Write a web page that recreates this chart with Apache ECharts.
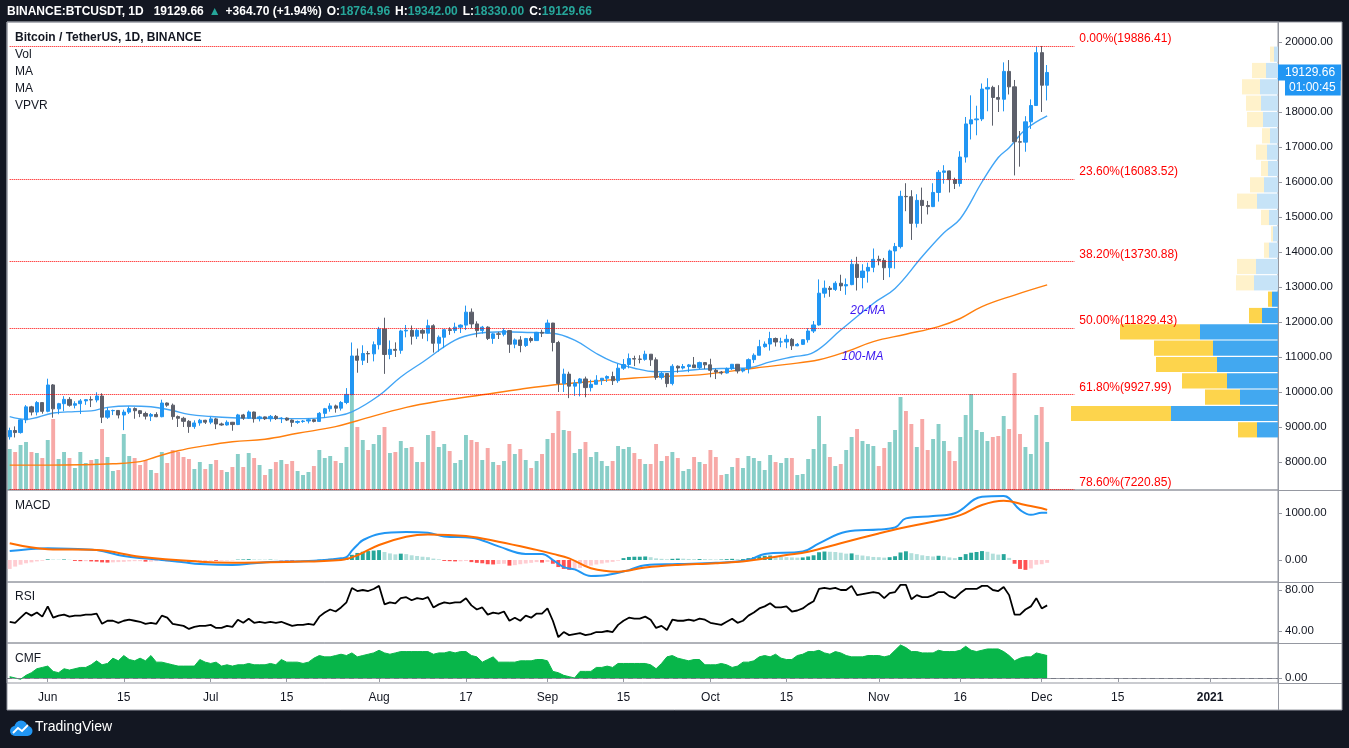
<!DOCTYPE html>
<html>
<head>
<meta charset="utf-8">
<script src="https://cdn.jsdelivr.net/npm/echarts@6/dist/echarts.min.js"></script>
<style>
  html, body { margin: 0; padding: 0; background: #131722; }
  #panel { position: absolute; left: 7px; top: 22px; width: 1335px; height: 688px; background: #fff; }
  #chart { position: absolute; left: 0; top: 0; width: 1349px; height: 748px; }
</style>
</head>
<body>
<div id="panel"></div>
<div id="chart"></div>
<script>
// ---- axis / category data ----
const days = [];
for (let t = Date.UTC(2020, 4, 25); t <= Date.UTC(2021, 0, 13); t += 86400000) {
  days.push(new Date(t).toISOString().slice(0, 10));
}
const tickDates = ['2020-06-01', '2020-06-15', '2020-07-01', '2020-07-15', '2020-08-01', '2020-08-17', '2020-09-01',
  '2020-09-15', '2020-10-01', '2020-10-15', '2020-11-01', '2020-11-16', '2020-12-01', '2020-12-15', '2021-01-01'];
const tickLabels = ['Jun', '15', 'Jul', '15', 'Aug', '17', 'Sep', '15', 'Oct', '15', 'Nov', '16', 'Dec', '15', '2021'];
const priceTicks = [8000, 9000, 10000, 11000, 12000, 13000, 14000, 15000, 16000, 17000, 18000, 19000, 20000];

// ---- daily candles from 2020-05-25: [open, high, low, close] ----
const candles = [
  [8720, 8980, 8640, 8900], [8900, 9017, 8700, 8841], [8841, 9225, 8811, 9204], [9204, 9625, 9110, 9575],
  [9575, 9605, 9330, 9427], [9427, 9740, 9331, 9697], [9697, 9700, 9381, 9448],
  // Jun
  [9448, 10380, 9421, 10200], [10202, 10228, 9266, 9518], [9518, 9690, 9365, 9666], [9666, 9881, 9450, 9789],
  [9788, 9854, 9581, 9621], [9621, 9735, 9531, 9666], [9666, 9800, 9372, 9746], [9746, 9800, 9633, 9782],
  [9782, 9877, 9570, 9772], [9772, 9992, 9704, 9885], [9885, 9963, 9113, 9280], [9280, 9557, 9232, 9465],
  [9465, 9494, 9341, 9473], [9473, 9480, 9245, 9342], [9342, 9495, 8910, 9426], [9426, 9589, 9373, 9525],
  [9525, 9560, 9236, 9465], [9465, 9484, 9281, 9386], [9386, 9438, 9215, 9310], [9310, 9400, 9170, 9358],
  [9358, 9422, 9281, 9294], [9294, 9780, 9277, 9685], [9685, 9700, 9577, 9624], [9624, 9670, 9208, 9297],
  [9297, 9328, 9000, 9249], [9249, 9291, 8999, 9162], [9162, 9196, 8833, 9012], [9012, 9191, 8948, 9116],
  [9116, 9232, 9036, 9192], [9192, 9205, 9086, 9138],
  // Jul
  [9138, 9292, 9080, 9232], [9232, 9261, 8940, 9087], [9087, 9125, 9037, 9058], [9058, 9190, 9040, 9135],
  [9135, 9145, 8893, 9070], [9070, 9375, 9055, 9345], [9345, 9375, 9203, 9253], [9253, 9470, 9230, 9428],
  [9428, 9440, 9125, 9237], [9237, 9320, 9160, 9289], [9289, 9300, 9200, 9235], [9235, 9343, 9153, 9303],
  [9303, 9343, 9200, 9241], [9241, 9279, 9113, 9255], [9255, 9275, 9170, 9198], [9198, 9216, 9005, 9133],
  [9133, 9186, 9089, 9157], [9157, 9200, 9120, 9171], [9171, 9244, 9102, 9208], [9208, 9225, 9131, 9160],
  [9160, 9427, 9142, 9390], [9390, 9545, 9268, 9521], [9521, 9680, 9438, 9603], [9603, 9640, 9410, 9538],
  [9538, 9740, 9470, 9700], [9700, 10111, 9652, 9931], [9931, 11415, 9903, 11029], [11029, 11242, 10550, 10906],
  [10906, 11335, 10770, 11100], [11100, 11169, 10831, 11090], [11090, 11444, 10875, 11352],
  // Aug
  [11352, 11861, 11215, 11800], [11800, 12123, 10518, 11072], [11072, 11473, 10936, 11219], [11219, 11418, 11000, 11191],
  [11191, 11780, 11093, 11744], [11744, 11915, 11562, 11762], [11762, 11900, 11354, 11594], [11594, 11808, 11512, 11761],
  [11761, 11797, 11521, 11681], [11681, 12067, 11450, 11893], [11893, 11935, 11125, 11392], [11392, 11617, 11152, 11565],
  [11565, 11800, 11254, 11780], [11780, 11850, 11634, 11760], [11760, 11980, 11680, 11852], [11852, 11932, 11686, 11911],
  [11911, 12468, 11770, 12281], [12281, 12387, 11817, 11945], [11945, 12020, 11562, 11754], [11754, 11888, 11668, 11853],
  [11853, 11878, 11485, 11531], [11531, 11686, 11376, 11662], [11662, 11718, 11514, 11648], [11648, 11824, 11590, 11754],
  [11754, 11766, 11117, 11366], [11366, 11530, 11250, 11488], [11488, 11595, 11135, 11329], [11329, 11545, 11285, 11529],
  [11529, 11580, 11410, 11469], [11469, 11718, 11459, 11706], [11706, 11780, 11570, 11681],
  // Sep
  [11681, 12067, 11672, 11970], [11970, 11975, 11160, 11414], [11414, 11462, 10000, 10245], [10245, 10666, 10000, 10511],
  [10511, 10580, 9825, 10167], [10167, 10350, 9889, 10256], [10256, 10400, 9875, 10373], [10373, 10440, 9850, 10126],
  [10126, 10350, 10015, 10220], [10220, 10480, 10218, 10338], [10338, 10400, 10200, 10393], [10393, 10475, 10285, 10442],
  [10442, 10581, 10200, 10323], [10323, 10800, 10262, 10680], [10680, 10940, 10630, 10786], [10786, 11100, 10676, 10954],
  [10954, 11037, 10740, 10941], [10941, 11050, 10817, 10933], [10933, 11180, 10893, 11080], [11080, 11080, 10745, 10920],
  [10920, 10988, 10350, 10417], [10417, 10575, 10357, 10529], [10529, 10537, 10136, 10241], [10241, 10795, 10190, 10736],
  [10736, 10760, 10550, 10686], [10686, 10800, 10644, 10728], [10728, 10800, 10565, 10774], [10774, 11000, 10700, 10696],
  [10696, 10867, 10650, 10840], [10840, 10845, 10656, 10776],
  // Oct
  [10776, 10950, 10420, 10619], [10619, 10665, 10370, 10570], [10570, 10600, 10497, 10542], [10542, 10700, 10528, 10666],
  [10666, 10800, 10630, 10792], [10792, 10800, 10530, 10600], [10600, 10680, 10560, 10668], [10668, 10960, 10532, 10924],
  [10924, 11104, 10830, 11050], [11050, 11491, 11050, 11296], [11296, 11444, 11266, 11370], [11370, 11720, 11183, 11529],
  [11529, 11557, 11300, 11429], [11429, 11550, 11280, 11430], [11430, 11635, 11250, 11505], [11505, 11541, 11200, 11320],
  [11320, 11400, 11308, 11361], [11361, 11488, 11345, 11495], [11495, 11824, 11412, 11742], [11742, 12028, 11686, 11916],
  [11916, 13217, 11895, 12823], [12823, 13185, 12695, 12965], [12965, 13027, 12720, 12931], [12931, 13165, 12887, 13108],
  [13108, 13350, 12888, 13031], [13031, 13244, 12777, 13068], [13068, 13789, 13050, 13650], [13650, 13863, 12900, 13272],
  [13272, 13650, 12962, 13455], [13455, 13695, 13125, 13561], [13561, 14100, 13422, 13791],
  // Nov
  [13791, 13895, 13620, 13761], [13761, 13830, 13200, 13550], [13550, 14068, 13280, 14030], [14030, 14259, 13525, 14155],
  [14155, 15750, 14101, 15590], [15590, 15965, 15166, 15580], [15580, 15766, 14345, 14818], [14818, 15650, 14700, 15475],
  [15475, 15840, 14806, 15328], [15328, 15460, 15072, 15297], [15297, 15965, 15283, 15701], [15701, 16340, 15440, 16276],
  [16276, 16480, 15952, 16317], [16317, 16325, 15700, 16068], [16068, 16123, 15800, 15957], [15957, 16880, 15870, 16713],
  [16713, 17858, 16555, 17659], [17659, 18476, 17215, 17777], [17777, 18179, 17335, 17802], [17802, 18815, 17740, 18656],
  [18656, 18965, 18021, 18703], [18703, 18750, 17610, 18415], [18415, 18766, 18000, 18364], [18364, 19418, 18019, 19160],
  [19160, 19484, 18500, 18719], [18719, 18915, 16188, 17150], [17150, 17457, 16438, 17139], [17139, 17880, 16865, 17719],
  [17719, 18360, 17517, 18185], [18185, 19863, 18185, 19696],
  // Dec
  [19696, 19886.41, 18001, 18764.96], [18764.96, 19342, 18330, 19129.66]
];

// volume per day (thousand BTC)
const volumes = [
  41, 38, 45, 48, 38, 37, 32,
  50, 71, 31, 38, 32, 22, 38, 27, 30, 31, 61, 33, 19, 20, 56, 34, 32, 25, 30, 20, 17, 38, 27, 40, 38, 33, 31, 21, 28, 21,
  26, 30, 20, 18, 23, 36, 23, 37, 32, 25, 15, 21, 28, 30, 26, 29, 19, 15, 18, 24, 40, 32, 34, 29, 27, 43, 97, 63, 50, 40, 46,
  55, 63, 37, 38, 49, 42, 43, 28, 28, 55, 59, 43, 46, 39, 27, 30, 55, 50, 48, 30, 42, 28, 25, 29, 46, 36, 41, 30, 22, 29, 36,
  51, 57, 79, 60, 59, 37, 41, 48, 33, 38, 29, 24, 29, 44, 41, 43, 37, 31, 26, 26, 46, 29, 34, 38, 32, 19, 21, 33, 28, 26,
  40, 33, 15, 16, 23, 32, 22, 34, 32, 29, 20, 35, 28, 27, 32, 32, 15, 16, 31, 41, 74, 46, 33, 24, 26, 40, 53, 61, 49, 46, 44,
  24, 42, 48, 60, 93, 79, 66, 43, 71, 40, 51, 66, 49, 39, 29, 53, 75, 96, 60, 58, 49, 53, 54, 74, 61, 117, 56, 43, 36, 75,
  83, 48
];

// moving averages, read at points along the curves
const ma20 = [
  ['2020-05-25', 9295], ['2020-05-28', 9220], ['2020-06-02', 9400], ['2020-06-06', 9440], ['2020-06-09', 9460],
  ['2020-06-12', 9560], ['2020-06-16', 9600], ['2020-06-20', 9580], ['2020-06-24', 9470], ['2020-06-27', 9360],
  ['2020-07-01', 9300], ['2020-07-05', 9265], ['2020-07-11', 9250], ['2020-07-16', 9240], ['2020-07-20', 9245],
  ['2020-07-24', 9310], ['2020-07-27', 9430], ['2020-08-01', 9900], ['2020-08-05', 10430], ['2020-08-09', 10850],
  ['2020-08-15', 11480], ['2020-08-19', 11670], ['2020-08-24', 11720], ['2020-08-29', 11700], ['2020-09-02', 11680],
  ['2020-09-06', 11480], ['2020-09-10', 11100], ['2020-09-13', 10870], ['2020-09-17', 10680], ['2020-09-21', 10580],
  ['2020-09-25', 10590], ['2020-09-29', 10650], ['2020-10-03', 10670], ['2020-10-08', 10690], ['2020-10-12', 10860],
  ['2020-10-16', 11000], ['2020-10-20', 11130], ['2020-10-25', 11770], ['2020-10-31', 12530], ['2020-11-04', 12960],
  ['2020-11-09', 13870], ['2020-11-13', 14550], ['2020-11-16', 14950], ['2020-11-20', 16000], ['2020-11-23', 16700],
  ['2020-11-25', 16980], ['2020-11-28', 17500], ['2020-12-02', 17890]
];
const ma100 = [
  ['2020-05-25', 7910], ['2020-06-01', 7910], ['2020-06-07', 7920], ['2020-06-13', 7950], ['2020-06-18', 8010],
  ['2020-06-21', 8150], ['2020-06-25', 8320], ['2020-06-29', 8440], ['2020-07-05', 8580], ['2020-07-11', 8650],
  ['2020-07-17', 8820], ['2020-07-24', 9010], ['2020-07-28', 9180], ['2020-08-06', 9560], ['2020-08-13', 9760],
  ['2020-08-20', 9920], ['2020-08-27', 10080], ['2020-09-02', 10200], ['2020-09-10', 10310], ['2020-09-17', 10400],
  ['2020-09-23', 10450], ['2020-09-29', 10490], ['2020-10-09', 10680], ['2020-10-15', 10790], ['2020-10-21', 10920],
  ['2020-10-26', 11150], ['2020-10-31', 11440], ['2020-11-06', 11650], ['2020-11-12', 11870], ['2020-11-16', 12100],
  ['2020-11-20', 12440], ['2020-11-26', 12770], ['2020-12-02', 13060]
];

// fibonacci retracement
const fibLevels = [19886.41, 16083.52, 13730.88, 11829.43, 9927.99, 7220.85];
const fibPct = ['0.00%', '23.60%', '38.20%', '50.00%', '61.80%', '78.60%'];
const fibEnd = '2020-12-07';

// volume profile rows, top (high price) to bottom
const vpvrPrices = [19653, 19186, 18719, 18252, 17785, 17318, 16851, 16384, 15917, 15450, 14983, 14516,
  14049, 13582, 13115, 12648, 12181, 11714, 11247, 10780, 10313, 9846, 9379, 8912];
const vpvrUp = [4, 12, 18, 17, 15, 8, 11, 10, 14, 21, 9, 5, 9, 22, 24, 6, 16, 78, 65, 61, 51, 38, 107, 21];
const vpvrDown = [4, 14, 18, 15, 16, 8, 11, 7, 14, 20, 8, 2, 5, 19, 18, 4, 13, 80, 59, 61, 45, 35, 100, 19];
const valueAreaHigh = 12886;

// MACD lines (points) and daily histogram
const macdLine = [
  ['2020-05-25', 190], ['2020-05-28', 225], ['2020-06-01', 250], ['2020-06-05', 240], ['2020-06-10', 210],
  ['2020-06-15', 85], ['2020-06-19', 30], ['2020-06-22', 0], ['2020-06-26', -50], ['2020-06-29', -85],
  ['2020-07-05', -105], ['2020-07-09', -70], ['2020-07-12', -40], ['2020-07-18', -25], ['2020-07-22', 0],
  ['2020-07-25', 35], ['2020-07-26', 60], ['2020-07-27', 200], ['2020-07-28', 320], ['2020-07-29', 420],
  ['2020-08-01', 555], ['2020-08-06', 595], ['2020-08-10', 580], ['2020-08-13', 500], ['2020-08-18', 475],
  ['2020-08-23', 290], ['2020-08-28', 130], ['2020-08-31', 130], ['2020-09-02', 0], ['2020-09-04', -150],
  ['2020-09-06', -200], ['2020-09-09', -340], ['2020-09-12', -320], ['2020-09-16', -215], ['2020-09-19', -110],
  ['2020-09-25', -85], ['2020-10-02', -60], ['2020-10-08', 0], ['2020-10-11', 130], ['2020-10-18', 180],
  ['2020-10-21', 355], ['2020-10-26', 600], ['2020-11-01', 650], ['2020-11-04', 690], ['2020-11-06', 885],
  ['2020-11-11', 935], ['2020-11-15', 995], ['2020-11-20', 1345], ['2020-11-24', 1360], ['2020-11-27', 1065],
  ['2020-11-29', 960], ['2020-12-01', 1005], ['2020-12-02', 1005]
];
const signalLine = [
  ['2020-05-25', 355], ['2020-06-01', 230], ['2020-06-10', 213], ['2020-06-18', 70], ['2020-06-29', -35],
  ['2020-07-05', -57], ['2020-07-15', -40], ['2020-07-25', 0], ['2020-07-28', 100], ['2020-08-01', 320],
  ['2020-08-06', 495], ['2020-08-10', 545], ['2020-08-17', 510], ['2020-08-23', 390], ['2020-08-30', 215],
  ['2020-09-02', 130], ['2020-09-05', 35], ['2020-09-09', -175], ['2020-09-14', -248], ['2020-09-19', -160],
  ['2020-09-25', -105], ['2020-10-02', -70], ['2020-10-08', -15], ['2020-10-15', 105], ['2020-10-19', 175],
  ['2020-10-25', 355], ['2020-11-01', 565], ['2020-11-05', 675], ['2020-11-11', 815], ['2020-11-16', 955],
  ['2020-11-20', 1170], ['2020-11-24', 1260], ['2020-11-28', 1170], ['2020-12-01', 1100], ['2020-12-02', 1065]
];
const macdHist = [
  -190, -140, -100, -70, -50, -30, -15,
  15, 10, 8, 12, 5, -20, -25, -25, -30, -35, -50, -55, -50, -45, -40, -30, -25, -25, -35, -35, -25, -15, -25, -40, -45, -40, -45, -35, -25, -20,
  -15, -18, -15, -12, -10, 8, 12, 18, 12, 10, 8, 8, 5, -8, -12, -15, -15, -12, -10, -15, 8, 18, 25, 30, 35, 55, 110, 150, 175, 190, 200,
  210, 170, 140, 120, 135, 125, 100, 85, 70, 60, 30, 15, -20, -25, -30, -28, -20, -45, -60, -70, -90, -95, -85, -80, -120, -110, -90, -75, -60, -45, -55,
  -40, -80, -150, -190, -210, -200, -170, -150, -120, -95, -75, -55, -40, -15, 40, 65, 70, 70, 75, 60, 35, 25, 15, 25, 30, 28, 22, 18, 20, 18,
  15, 10, 10, 18, 25, 18, 20, 40, 60, 80, 90, 95, 80, 65, 60, 55, 50, 55, 75, 100, 165, 180, 175, 170, 155, 135, 140, 110, 95, 80, 65,
  60, 50, 60, 80, 160, 185, 145, 125, 100, 85, 75, 90, 80, 55, 40, 65, 125, 155, 170, 190, 175, 135, 115, 125, 45, -80, -190, -210, -180, -100,
  -90, -60
];

const rsi = [
  49, 48, 53, 58, 55, 58, 54,
  64, 53, 55, 56, 54, 55, 55, 56, 56, 57, 47, 50, 50, 48, 50, 51, 50, 49, 47, 48, 47, 55, 53, 47, 46, 45, 42, 44, 45, 45,
  46, 43, 43, 45, 44, 51, 48, 52, 48, 49, 48, 49, 48, 49, 47, 45, 46, 46, 47, 46, 54, 58, 61, 59, 63, 68, 82, 79, 80, 79, 81,
  84, 66, 68, 67, 72, 73, 70, 72, 71, 73, 63, 66, 68, 67, 68, 68, 72, 65, 61, 63, 56, 58, 57, 59, 50, 53, 50, 55, 53, 57, 57,
  62, 50, 34, 39, 36, 37, 38, 36, 37, 39, 39, 40, 39, 46, 50, 53, 52, 52, 54, 51, 43, 45, 41, 51, 50, 50, 51, 50, 52, 51,
  48, 47, 46, 49, 52, 48, 50, 55, 58, 62, 64, 67, 63, 63, 64, 59, 60, 62, 66, 69, 81, 82, 81, 82, 80, 80, 84, 75, 76, 77, 78,
  77, 72, 77, 78, 85, 85, 71, 75, 73, 73, 75, 78, 78, 74, 72, 77, 81, 81, 81, 84, 84, 80, 79, 83, 75, 56, 56, 61, 64, 72,
  62, 65
];

const cmf = [
  0.01, 0.00, -0.01, 0.02, 0.04, 0.07, 0.08,
  0.09, 0.05, 0.04, 0.07, 0.06, 0.07, 0.08, 0.08, 0.10, 0.13, 0.10, 0.11, 0.15, 0.13, 0.17, 0.14, 0.13, 0.15, 0.13, 0.17,
  0.12, 0.12, 0.11, 0.10, 0.09, 0.09, 0.09, 0.09, 0.14, 0.12,
  0.11, 0.12, 0.09, 0.10, 0.09, 0.10, 0.10, 0.11, 0.10, 0.10, 0.10, 0.11, 0.10, 0.14, 0.12, 0.12, 0.12, 0.11, 0.12, 0.15,
  0.17, 0.16, 0.16, 0.17, 0.18, 0.17, 0.19, 0.16, 0.17, 0.18, 0.19,
  0.21, 0.19, 0.18, 0.19, 0.20, 0.20, 0.20, 0.20, 0.20, 0.20, 0.18, 0.19, 0.19, 0.20, 0.19, 0.20, 0.20, 0.17, 0.16, 0.12,
  0.14, 0.16, 0.12, 0.12, 0.12, 0.12, 0.13, 0.13, 0.13, 0.14, 0.14,
  0.13, 0.05, 0.04, 0.02, 0.01, 0.00, 0.05, 0.05, 0.05, 0.08, 0.08, 0.09, 0.08, 0.11, 0.11, 0.11, 0.11, 0.11, 0.11, 0.10,
  0.07, 0.11, 0.16, 0.17, 0.15, 0.14, 0.13, 0.14, 0.14, 0.10,
  0.10, 0.10, 0.11, 0.10, 0.08, 0.09, 0.12, 0.12, 0.13, 0.16, 0.17, 0.16, 0.18, 0.15, 0.14, 0.14, 0.17, 0.18, 0.20, 0.20,
  0.21, 0.19, 0.18, 0.20, 0.19, 0.17, 0.16, 0.16, 0.16, 0.17, 0.17,
  0.17, 0.16, 0.17, 0.21, 0.25, 0.23, 0.20, 0.20, 0.19, 0.19, 0.19, 0.21, 0.20, 0.20, 0.20, 0.21, 0.24, 0.21, 0.20, 0.21,
  0.22, 0.22, 0.22, 0.20, 0.17, 0.13, 0.15, 0.16, 0.16, 0.19,
  0.18, 0.17
];

// ---- build ----
const UP = '#2196f3', DOWN = '#5d606b', GRID = '#9598a1', TXT = '#131722';
const FONT = 'Liberation Sans, Arial, sans-serif';

const last = candles[candles.length - 1];
const prevClose = candles[candles.length - 2][3];
const chg = last[3] - prevClose;

const candleData = candles.map(c => [c[0], c[3], c[2], c[1]]);
const volData = volumes.map((v, i) => ({
  value: v,
  itemStyle: { color: candles[i][3] >= candles[i][0] ? 'rgba(38,166,154,0.55)' : 'rgba(239,83,80,0.5)' }
}));
const histData = macdHist.map((v, i) => {
  const p = i ? macdHist[i - 1] : v;
  let color;
  if (v >= 0) color = v >= p ? '#26a69a' : '#b2dfdb';
  else color = v < p ? '#ff5252' : '#ffcdd2';
  return { value: v, itemStyle: { color } };
});
const inVA = vpvrPrices.map(p => p < valueAreaHigh);
const upData = vpvrUp.map((v, i) => ({ value: v, itemStyle: { color: inVA[i] ? '#42a8f0' : '#c6e3f7' } }));
const downData = vpvrDown.map((v, i) => ({ value: v, itemStyle: { color: inVA[i] ? '#fdd44c' : '#fff2cb' } }));

const tickSet = new Set(tickDates);
const label = (txt, top, extra) => Object.assign({
  text: txt, left: 15, top: top, padding: 0,
  textStyle: { fontFamily: FONT, fontSize: 12, color: TXT, fontWeight: 'normal' }
}, extra || {});

const catAxis = (gi, show) => ({
  type: 'category', gridIndex: gi, data: days, boundaryGap: true,
  show: show, axisLine: { lineStyle: { color: GRID } }
});
const rightAxis = (gi, min, max, ticks, fmt) => ({
  type: 'value', gridIndex: gi, position: 'right', min: min, max: max, splitLine: { show: false },
  axisLine: { show: true, lineStyle: { color: GRID } },
  axisTick: { show: true, length: 4, lineStyle: { color: GRID }, customValues: ticks },
  axisLabel: { customValues: ticks, color: TXT, fontSize: 11.5, fontFamily: FONT, margin: 7, formatter: fmt }
});
const two = v => v.toFixed(2);
const gutterLine = (x1, y1, x2, y2) => ({ type: 'line', silent: true, shape: { x1, y1, x2, y2 }, style: { stroke: GRID, lineWidth: 1 } });

const chart = echarts.init(document.getElementById('chart'));
chart.setOption({
  animation: false,
  textStyle: { fontFamily: FONT },
  title: [
    {
      left: 7, top: 3, padding: 0,
      text: '{t|BINANCE:BTCUSDT, 1D}  {w|' + two(last[3]) + '} {g|▲} {w|+' + two(chg) + ' (+' + two(chg / prevClose * 100) + '%)} ' +
        '{w|O:}{g|' + two(last[0]) + '} {w|H:}{g|' + two(last[1]) + '} {w|L:}{g|' + two(last[2]) + '} {w|C:}{g|' + two(last[3]) + '}',
      textStyle: {
        rich: {
          t: { color: '#ffffff', fontWeight: 'bold', fontSize: 12, fontFamily: FONT },
          w: { color: '#ffffff', fontSize: 12, fontFamily: FONT },
          g: { color: '#26a69a', fontSize: 12, fontFamily: FONT }
        }
      }
    },
    label('Bitcoin / TetherUS, 1D, BINANCE', 32, { textStyle: { fontFamily: FONT, fontSize: 12, color: TXT, fontWeight: 'bold' } }),
    label('Vol', 49), label('MA', 66), label('MA', 83), label('VPVR', 100),
    label('MACD', 500), label('RSI', 591), label('CMF', 653),
    { text: 'TradingView', left: 35, top: 720, padding: 0, textStyle: { fontFamily: FONT, fontSize: 14, color: '#ffffff', fontWeight: 'normal' } }
  ],
  graphic: [
    gutterLine(1278, 490.5, 1342, 490.5),
    gutterLine(1278, 582.5, 1342, 582.5),
    gutterLine(1278, 643.5, 1342, 643.5),
    gutterLine(1278, 683.5, 1342, 683.5),
    gutterLine(1278.5, 683, 1278.5, 710),
    { type: 'rect', silent: true, shape: { x: 7, y: 22, width: 1335, height: 688 }, style: { fill: 'transparent', stroke: GRID } },
    // TradingView cloud logo
    { type: 'circle', silent: true, shape: { cx: 15, cy: 731, r: 5 }, style: { fill: '#2196f3' } },
    { type: 'circle', silent: true, shape: { cx: 21, cy: 727, r: 6.5 }, style: { fill: '#2196f3' } },
    { type: 'circle', silent: true, shape: { cx: 27.5, cy: 731, r: 5 }, style: { fill: '#2196f3' } },
    { type: 'rect', silent: true, shape: { x: 15, y: 731, width: 12.5, height: 5 }, style: { fill: '#2196f3' } },
    { type: 'polyline', silent: true, shape: { points: [[13, 733], [18, 728], [22, 731], [28, 725]] }, style: { stroke: '#ffffff', lineWidth: 1.8, fill: null } }
  ],
  grid: [
    { left: 7, right: 71, top: 22, height: 468, show: true, borderColor: GRID },
    { left: 7, right: 71, top: 340, height: 150 },
    { left: 1065, right: 71, top: 46, height: 392 },
    { left: 7, right: 71, top: 490, height: 92, show: true, borderColor: GRID },
    { left: 7, right: 71, top: 582, height: 61, show: true, borderColor: GRID },
    { left: 7, right: 71, top: 643, height: 40, show: true, borderColor: GRID }
  ],
  xAxis: [
    catAxis(0, false), catAxis(1, false),
    { type: 'value', gridIndex: 2, inverse: true, min: 0, max: 213, show: false },
    catAxis(3, false), catAxis(4, false),
    Object.assign(catAxis(5, true), {
      axisTick: { show: true, alignWithLabel: true, length: 4, interval: (i, v) => tickSet.has(v), lineStyle: { color: GRID } },
      axisLabel: {
        interval: (i, v) => tickSet.has(v), margin: 9, color: TXT, fontSize: 12, fontFamily: FONT,
        formatter: v => {
          const t = tickLabels[tickDates.indexOf(v)];
          return t === '2021' ? '{b|' + t + '}' : t;
        },
        rich: { b: { fontWeight: 'bold', fontSize: 12, color: TXT, fontFamily: FONT } }
      }
    })
  ],
  yAxis: [
    rightAxis(0, 7200, 20571.4, priceTicks, two),
    { type: 'value', gridIndex: 1, min: 0, max: 150, show: false },
    { type: 'category', gridIndex: 2, data: vpvrPrices, inverse: true, show: false },
    rightAxis(3, -468, 1489, [0, 1000], two),
    rightAxis(4, 28.3, 87.8, [40, 80], two),
    rightAxis(5, -0.038, 0.265, [0], two)
  ],
  series: [
    {
      type: 'bar', name: 'Vol', xAxisIndex: 1, yAxisIndex: 1, data: volData, barWidth: '72%', z: 1
    },
    {
      type: 'candlestick', name: 'BTCUSDT', xAxisIndex: 0, yAxisIndex: 0, data: candleData, barWidth: '68%', z: 3,
      itemStyle: { color: UP, color0: DOWN, borderColor: UP, borderColor0: DOWN, borderWidth: 1 },
      markLine: {
        symbol: ['none', 'none'], silent: true,
        lineStyle: { color: '#ff0000', type: 'dotted', width: 1 },
        label: {
          position: 'end', distance: 5, formatter: p => '{t|' + p.name + '}\n{s| }',
          rich: {
            t: { color: '#ff0000', fontSize: 12, fontFamily: FONT, lineHeight: 14 },
            s: { fontSize: 6, lineHeight: 14 }
          }
        },
        data: fibLevels.map((lv, i) => {
          const nm = fibPct[i] + '(' + two(lv) + ')';
          return [{ name: nm, coord: [days[0], lv] }, { name: nm, coord: [fibEnd, lv] }];
        })
      }
    },
    {
      // last price tag on the price scale
      type: 'line', name: 'Last', xAxisIndex: 0, yAxisIndex: 0, data: [], z: 5,
      markLine: {
        symbol: ['none', 'none'], silent: true,
        lineStyle: { color: 'rgba(0,0,0,0)', width: 1 },
        label: {
          position: 'end', distance: 0, formatter: '{s| }\n{a|' + two(last[3]) + '}\n{p| }{b|01:00:45}',
          rich: {
            s: { fontSize: 6, height: 17, lineHeight: 17 },
            a: { backgroundColor: '#2196f3', color: '#ffffff', fontSize: 12, fontFamily: FONT, padding: [2, 6, 2, 7], lineHeight: 12 },
            p: { fontSize: 6, width: 7, lineHeight: 17 },
            b: { backgroundColor: '#2196f3', color: '#ffffff', fontSize: 12, fontFamily: FONT, padding: [3, 5, 2, 4], lineHeight: 12 }
          }
        },
        data: [{ yAxis: last[3] }]
      }
    },
    {
      type: 'line', name: 'MA20', xAxisIndex: 0, yAxisIndex: 0, data: ma20, smooth: 0.4, showSymbol: false, z: 2,
      lineStyle: { color: '#42a5f5', width: 1.4 },
      markPoint: {
        symbol: 'circle', symbolSize: 0, silent: true,
        label: { show: true, formatter: '20-MA', color: '#3a16f0', fontStyle: 'italic', fontSize: 12, fontFamily: FONT },
        data: [{ coord: ['2020-10-30', 12314] }]
      }
    },
    {
      type: 'line', name: 'MA100', xAxisIndex: 0, yAxisIndex: 0, data: ma100, smooth: 0.4, showSymbol: false, z: 2,
      lineStyle: { color: '#ff7f0e', width: 1.4 },
      markPoint: {
        symbol: 'circle', symbolSize: 0, silent: true,
        label: { show: true, formatter: '100-MA', color: '#3a16f0', fontStyle: 'italic', fontSize: 12, fontFamily: FONT },
        data: [{ coord: ['2020-10-29', 11000] }]
      }
    },
    { type: 'bar', name: 'VPVR up', xAxisIndex: 2, yAxisIndex: 2, stack: 'vp', data: upData, barCategoryGap: '7%', z: 4 },
    { type: 'bar', name: 'VPVR down', xAxisIndex: 2, yAxisIndex: 2, stack: 'vp', data: downData, barCategoryGap: '7%', z: 4 },
    { type: 'bar', name: 'Histogram', xAxisIndex: 3, yAxisIndex: 3, data: histData, barWidth: '72%' },
    { type: 'line', name: 'MACD', xAxisIndex: 3, yAxisIndex: 3, data: macdLine, smooth: 0.4, showSymbol: false, lineStyle: { color: '#2196f3', width: 2 } },
    { type: 'line', name: 'Signal', xAxisIndex: 3, yAxisIndex: 3, data: signalLine, smooth: 0.4, showSymbol: false, lineStyle: { color: '#ff6d00', width: 2 } },
    { type: 'line', name: 'RSI', xAxisIndex: 4, yAxisIndex: 4, data: rsi, showSymbol: false, lineStyle: { color: '#000000', width: 1.8 } },
    {
      type: 'line', name: 'CMF', xAxisIndex: 5, yAxisIndex: 5, data: cmf, showSymbol: false,
      lineStyle: { color: '#08b64a', width: 1 }, areaStyle: { color: '#08b64a', opacity: 1 },
      markLine: {
        symbol: ['none', 'none'], silent: true, label: { show: false },
        lineStyle: { color: '#787b86', type: [5, 4], width: 1 },
        data: [{ yAxis: 0 }]
      }
    }
  ]
});
</script>
</body>
</html>
